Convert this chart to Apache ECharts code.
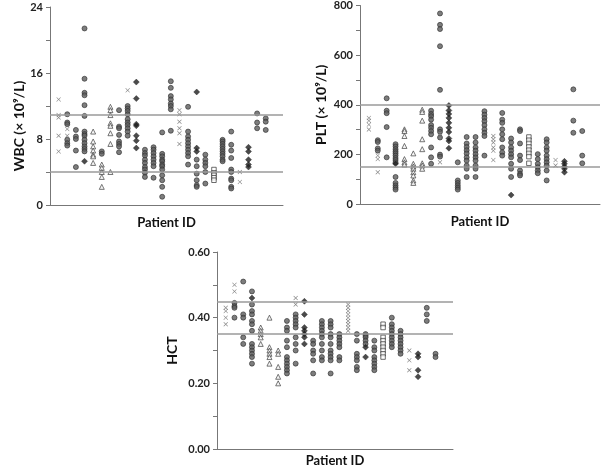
<!DOCTYPE html>
<html><head><meta charset="utf-8">
<script src="https://cdn.jsdelivr.net/npm/echarts@6/dist/echarts.min.js"></script>
<style>html,body{margin:0;padding:0;background:#fff}#c{width:605px;height:468px}</style>
</head><body><div id="c"></div>
<script>
// Per patient: [patient index, marker type, values]
const wbcPoints = [
 [1,'cross',[12.8,10.9,10.6,8.4,6.5]],
 [2,'circle',[11.0,10.0,9.8,7.9,7.5,7.2]],[2,'cross',[9.2,8.4]],
 [3,'circle',[9.1,8.3,8.0,6.6,4.6]],
 [4,'circle',[21.4,15.3,13.6,13.3,12.1,10.8,8.9,8.6,8.4,7.9,7.5,7.1,6.8,6.5]],[4,'diamond',[5.3]],
 [5,'triangle',[8.9,7.7,7.1,6.6,6.1,5.9,5.1]],
 [6,'triangle',[4.9,4.5,4.0,3.4,2.2]],[6,'circle',[6.5,6.2]],
 [7,'triangle',[11.9,11.5,10.9,9.9,9.6,8.7,7.4,4.0]],
 [8,'circle',[11.5,9.5,9.3,8.5,7.7,7.4,7.1,6.4]],
 [9,'cross',[13.9]],[9,'circle',[12.0,11.7,11.4,11.0,10.4,10.0,9.7,9.3,8.9,8.4]],
 [10,'diamond',[14.9,12.9,9.8,9.6,8.4,7.8,6.9]],
 [11,'circle',[6.7,6.3,6.0,5.5,5.1,4.6,4.3,3.9,3.4]],
 [12,'circle',[7.0,6.7,6.3,5.9,5.5,5.1,4.7,3.3]],
 [13,'circle',[8.8,6.2,5.9,5.5,5.3,4.9,4.7,4.3,3.6,3.0,2.2,1.0]],
 [14,'circle',[15.0,14.2,13.2,12.8,12.3,12.0,11.6,9.0]],
 [15,'cross',[11.5,11.0,10.1,9.3,8.7,7.4]],
 [16,'circle',[11.9,8.9,8.3,7.9,7.5,7.1,6.7,6.3,5.9,4.9]],
 [17,'diamond',[13.7,6.9,6.5]],[17,'circle',[5.5,4.7,3.8,3.0,2.4,2.2]],
 [18,'circle',[6.1,5.5,5.1,4.7,4.0,2.6]],
 [19,'square',[4.3,3.9,3.6,3.3,3.0]],
 [20,'circle',[7.9,7.7,7.4,7.1,6.8,6.5,6.2,5.9,5.5,5.3]],
 [21,'circle',[8.9,7.3,6.6,5.7,4.3,4.0,3.2,3.0,2.2,2.0]],
 [22,'cross',[4.0,2.8]],
 [23,'diamond',[7.0,6.5,5.5,4.9,4.6]],
 [24,'circle',[11.1,10.0,9.3]],
 [25,'circle',[10.5,10.1,9.1]]
];
const pltPoints = [
 [1,'cross',[347,336,320,300]],
 [2,'circle',[257,250,224,215]],[2,'cross',[195,181,128]],
 [3,'circle',[426,376,366,310,188]],
 [4,'circle',[241,232,221,212,204,195,185,177,168,109,85,75,66,58]],[4,'diamond',[162]],
 [5,'triangle',[301,294,274,234,181,168,159]],
 [6,'triangle',[204,162,151,142,128,115,95,85]],
 [7,'triangle',[380,371,336,261,221,164,155,142]],
 [8,'circle',[376,363,354,340,318,307,294,281,228,188,162]],
 [9,'circle',[768,722,705,636,460,301,291,268,199,191]],[9,'cross',[274,168]],
 [10,'diamond',[397,377,363,347,327,307,290,264,254,225]],
 [11,'circle',[168,95,85,75,66,58]],
 [12,'circle',[270,244,230,217,204,188,175,155,142,109]],
 [13,'circle',[270,248,228,215,201,188,175,155,142,109]],
 [14,'circle',[374,360,347,334,318,301,287,274,195]],
 [15,'cross',[274,261,248,228,215,177]],
 [16,'circle',[367,340,327,301,281,261,228,208,195]],
 [17,'circle',[264,248,228,215,201,188,162,142,109]],[17,'diamond',[36]],
 [18,'circle',[301,294,244,195,177,135,122,115]],
 [19,'square',[270,257,244,230,217,204,191,164]],
 [20,'circle',[201,181,162,148,135,124]],
 [21,'circle',[261,248,228,215,195,181,168,155,135,95]],
 [22,'cross',[177,155]],
 [23,'diamond',[172,162,151,142,128]],
 [24,'circle',[462,336,287]],
 [25,'circle',[294,195,164]]
];
const hctPoints = [
 [1,'cross',[0.43,0.42,0.40,0.38]],
 [2,'cross',[0.50,0.48]],[2,'circle',[0.445,0.435,0.43,0.40]],
 [3,'circle',[0.51,0.41,0.40,0.34,0.32]],
 [4,'circle',[0.48,0.44,0.42,0.41,0.39,0.38,0.36,0.32,0.31,0.30,0.29,0.28,0.26]],[4,'diamond',[0.46]],
 [5,'triangle',[0.37,0.36,0.35,0.34,0.32]],
 [6,'triangle',[0.40,0.31,0.30,0.29,0.28,0.26]],
 [7,'triangle',[0.30,0.29,0.25,0.22,0.20]],
 [8,'circle',[0.39,0.37,0.36,0.33,0.31,0.28,0.27,0.26,0.25,0.24,0.23]],
 [9,'cross',[0.46,0.44]],[9,'circle',[0.41,0.40,0.39,0.38,0.37,0.34,0.32,0.30,0.26]],
 [10,'diamond',[0.45,0.41,0.37,0.36,0.35,0.34,0.32]],
 [11,'circle',[0.33,0.32,0.30,0.29,0.27,0.23]],
 [12,'circle',[0.39,0.38,0.37,0.36,0.35,0.34,0.32,0.30,0.28,0.27]],
 [13,'circle',[0.39,0.38,0.37,0.35,0.34,0.32,0.30,0.29,0.28,0.27,0.23]],
 [14,'circle',[0.35,0.34,0.33,0.32,0.31,0.28,0.27]],
 [15,'cross',[0.44,0.43,0.42,0.41,0.40,0.39,0.38,0.37,0.36]],
 [16,'circle',[0.35,0.33,0.29,0.28,0.27,0.25,0.24]],
 [17,'circle',[0.35,0.345,0.34,0.33,0.32]],[17,'diamond',[0.31,0.28]],
 [18,'circle',[0.33,0.31,0.30,0.28,0.27,0.26,0.25,0.24]],
 [19,'square',[0.38,0.37,0.34,0.33,0.32,0.31,0.30,0.29,0.28]],
 [20,'circle',[0.40,0.38,0.37,0.36,0.35,0.34,0.33,0.32,0.31]],
 [21,'circle',[0.36,0.35,0.34,0.33,0.32,0.31,0.30,0.29]],
 [22,'cross',[0.30,0.27,0.24]],
 [23,'diamond',[0.29,0.28,0.24,0.22]],
 [24,'circle',[0.43,0.41,0.39]],
 [25,'circle',[0.29,0.28]]
];
const wbcRefLines = [11, 4];
const pltRefLines = [400, 150];
const hctRefLines = [0.45, 0.35];
const wbcTicks = {min:0, max:24, interval:4, labelEvery:8};
const pltTicks = {min:0, max:800, interval:100, labelEvery:200};
const hctTicks = {min:0, max:0.6, interval:0.1, labelEvery:0.2};
const patientCountAxisMax = 27;

const markerStyles = {
  circle:{symbol:'circle', size:5, itemStyle:{color:'#5c5c5c', borderColor:'#2e2e2e', borderWidth:0.8}},
  cross:{symbol:'path://M1,0L5,4L9,0L10,1L6,5L10,9L9,10L5,6L1,10L0,9L4,5L0,1Z', size:4.5, itemStyle:{color:'#666'}},
  triangle:{symbol:'triangle', size:5, itemStyle:{color:'#f2f2f2', borderColor:'#444', borderWidth:0.9}},
  diamond:{symbol:'diamond', size:6, itemStyle:{color:'#1e1e1e', borderColor:'#1e1e1e', borderWidth:0.5}},
  square:{symbol:'rect', size:4.5, itemStyle:{color:'#fff', borderColor:'#333', borderWidth:0.9}}
};
const FONT = 'Lato';
const grids = [
  {left:50, top:7, width:233, height:198},
  {left:360, top:3, width:240, height:201},
  {left:217, top:252, width:236, height:201}
];
function yAxis(gi, t, name, dec, nameGap, pad){
  return {
    type:'value', gridIndex:gi, min:t.min, max:t.max, interval:t.interval,
    name:name, nameLocation:'middle', nameGap:nameGap,
    nameTextStyle:{fontFamily:FONT, fontWeight:'bold', fontSize:14, color:'#111', padding:pad},
    axisLine:{show:true, lineStyle:{color:'#777', width:1}},
    axisTick:{show:true, length:4, lineStyle:{color:'#777'}},
    splitLine:{show:false},
    axisLabel:{fontFamily:FONT, fontWeight:'bold', fontSize:11, color:'#222', margin:7,
      formatter:function(v){const r=v/t.labelEvery; return Math.abs(r-Math.round(r))<1e-6 ? v.toFixed(dec) : '';}}
  };
}
function xAxis(gi, gap){
  return {
    type:'value', gridIndex:gi, min:0, max:patientCountAxisMax,
    name:'Patient ID', nameLocation:'middle', nameGap:gap,
    nameTextStyle:{fontFamily:FONT, fontWeight:'bold', fontSize:13, color:'#111'},
    axisLine:{show:true, onZero:false, lineStyle:{color:'#777', width:1}},
    axisTick:{show:false}, axisLabel:{show:false}, splitLine:{show:false}
  };
}
function buildSeries(points, gi, refLines){
  const out = [];
  out.push({type:'line', xAxisIndex:gi, yAxisIndex:gi, data:[], silent:true,
    markLine:{silent:true, symbol:'none', label:{show:false}, animation:false,
      lineStyle:{color:'#9a9a9a', width:1.5, type:'solid'},
      data:refLines.map(v=>({yAxis:v}))}});
  ['circle','triangle','cross','square','diamond'].forEach(m=>{
    const data = [];
    points.forEach(p=>{ if(p[1]===m) p[2].forEach(v=>data.push([p[0], v])); });
    const st = markerStyles[m];
    out.push({type:'scatter', xAxisIndex:gi, yAxisIndex:gi, data:data,
      symbol:st.symbol, symbolSize:st.size, itemStyle:st.itemStyle, z:3});
  });
  return out;
}
const chart = echarts.init(document.getElementById('c'), null, {renderer:'canvas'});
chart.setOption({
  animation:false,
  backgroundColor:'#fff',
  grid:grids,
  xAxis:[xAxis(0,11), xAxis(1,11), xAxis(2,5)],
  yAxis:[
    yAxis(0, wbcTicks, 'WBC (× 10⁹/L)', 0, 24, [0,40,0,0]),
    yAxis(1, pltTicks, 'PLT (× 10⁹/L)', 0, 32, 0),
    yAxis(2, hctTicks, 'HCT', 2, 38, 0)
  ],
  series:[].concat(buildSeries(wbcPoints,0,wbcRefLines), buildSeries(pltPoints,1,pltRefLines), buildSeries(hctPoints,2,hctRefLines))
});
</script></body></html>
